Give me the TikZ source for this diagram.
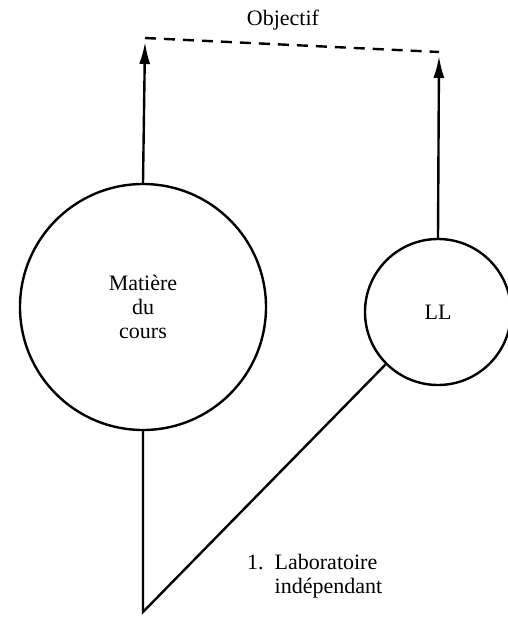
\documentclass[tikz,border=0pt]{standalone}
\usepackage{fontspec}
\setmainfont{Liberation Serif}
\usetikzlibrary{arrows.meta, positioning}

\begin{document}
\begin{tikzpicture}[x=1pt, y=-1pt, line width=2.4pt,
        font=\fontsize{22}{24}\selectfont,
        rond/.style={draw, circle, inner sep=0pt, align=center},
        fleche/.style={-{Latex[length=22pt, width=11pt]}},
        pointille/.style={dashed, dash pattern=on 11pt off 8pt}]

    \useasboundingbox (0,0) rectangle (508,622);

    % Définitions des cercles
    \node[rond, minimum size=246pt] (matiere) at (143,307) {Matière\\du\\cours};
    \node[rond, minimum size=146pt] (ll) at (438,312) {LL};

    % Points de l'objectif et sommet du bas
    \coordinate (obj1) at (145,42);
    \coordinate (obj2) at (439,56);
    \coordinate (bas) at (143,612);
    \node (objectif) at (283,20) {Objectif};

    % Définition des liaisons
    \draw[fleche] (matiere.north) -- (obj1);
    \draw[fleche] (ll.north) -- (obj2);
    \draw[pointille] ([yshift=4pt]obj1) -- ([yshift=4pt]obj2);
    \draw (matiere.south) -- (bas) -- (ll.225);

    \node[anchor=north west, inner sep=0pt] (labo) at (246,551)
        {\begin{tabular}{@{}l@{\ \ }l@{}}1. & Laboratoire\\ & indépendant\end{tabular}};

\end{tikzpicture}
\end{document}
